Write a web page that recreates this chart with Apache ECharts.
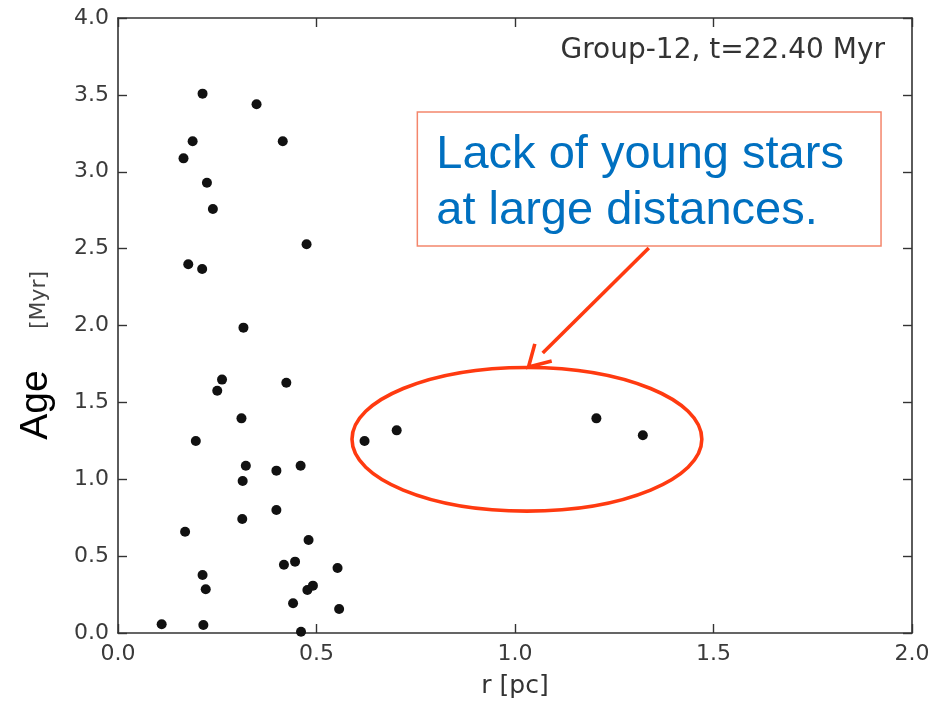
<!DOCTYPE html>
<html>
<head>
<meta charset="utf-8">
<script src="https://cdn.jsdelivr.net/npm/echarts@6/dist/echarts.min.js"></script>
<style>
  html, body { margin: 0; padding: 0; background: #fff; }
  #chart { width: 949px; height: 706px; }
</style>
</head>
<body>
<div id="chart"></div>
<script>
// Stellar ages vs. radial distance for one group
const radiusPc = [0.213, 0.349, 0.188, 0.415, 0.165, 0.224, 0.239, 0.475, 0.177, 0.212,
                  0.316, 0.262, 0.250, 0.424, 0.311, 0.196, 0.621, 0.702, 1.205, 1.322,
                  0.322, 0.460, 0.399, 0.314, 0.399, 0.313, 0.480, 0.169, 0.446, 0.418,
                  0.553, 0.213, 0.221, 0.477, 0.491, 0.441, 0.557, 0.110, 0.215, 0.461];
const ageMyr = [3.508, 3.439, 3.198, 3.198, 3.087, 2.929, 2.758, 2.528, 2.398, 2.367,
                1.986, 1.648, 1.576, 1.628, 1.396, 1.249, 1.249, 1.318, 1.396, 1.286,
                1.088, 1.088, 1.056, 0.989, 0.800, 0.741, 0.605, 0.659, 0.464, 0.444,
                0.423, 0.377, 0.284, 0.280, 0.308, 0.193, 0.156, 0.057, 0.052, 0.008];

const xTicks = [0, 0.5, 1.0, 1.5, 2.0];
const yTicks = [0, 0.5, 1.0, 1.5, 2.0, 2.5, 3.0, 3.5, 4.0];
const panelTitle = 'Group-12, t=22.40 Myr';
const noteLines = ['Lack of young stars', 'at large distances.'];

const points = radiusPc.map((r, i) => [r, ageMyr[i]]);

const axisColor = '#333';
const tickFont = { fontFamily: 'DejaVu Sans', fontSize: 22, color: '#3a3a3a' };

function frameAxis(extra) {
  return Object.assign({
    type: 'value',
    axisLine: { show: true, onZero: false, lineStyle: { color: axisColor, width: 1.6 } },
    axisTick: { show: true, inside: true, length: 9, lineStyle: { color: axisColor, width: 1.4 } },
    splitLine: { show: false }
  }, extra);
}

const chart = echarts.init(document.getElementById('chart'), null, { renderer: 'canvas' });

chart.setOption({
  animation: false,
  backgroundColor: '#fff',
  grid: { left: 118, right: 37, top: 18, bottom: 73 },
  xAxis: [
    frameAxis({
      position: 'bottom', min: xTicks[0], max: xTicks[xTicks.length - 1], interval: 0.5,
      axisLabel: Object.assign({ margin: 10, formatter: v => v.toFixed(1) }, tickFont),
      name: 'r [pc]', nameLocation: 'middle', nameGap: 41,
      nameTextStyle: { fontFamily: 'DejaVu Sans', fontSize: 25, color: '#333' }
    }),
    frameAxis({
      position: 'top', min: xTicks[0], max: xTicks[xTicks.length - 1], interval: 0.5,
      axisLabel: { show: false }
    })
  ],
  yAxis: [
    frameAxis({
      position: 'left', min: yTicks[0], max: yTicks[yTicks.length - 1], interval: 0.5,
      axisLabel: Object.assign({ margin: 9, formatter: v => v.toFixed(1) }, tickFont)
    }),
    frameAxis({
      position: 'right', min: yTicks[0], max: yTicks[yTicks.length - 1], interval: 0.5,
      axisLabel: { show: false }
    })
  ],
  series: [{
    type: 'scatter',
    xAxisIndex: 0,
    yAxisIndex: 0,
    data: points,
    symbol: 'circle',
    symbolSize: 10,
    itemStyle: { color: '#111', opacity: 1 },
    clip: true
  }]
});

// Annotations, anchored in data space
const toPx = (x, y) => chart.convertToPixel({ xAxisIndex: 0, yAxisIndex: 0 }, [x, y]);

const ellC = toPx(1.03, 1.26);
const ellR = toPx(1.03 + 0.4406, 1.26 + 0.467);
const arrowFrom = toPx(1.337, 2.504);
const arrowTip = toPx(1.034, 1.730);
const boxTL = toPx(0.754, 3.389);
const boxBR = toPx(1.922, 2.517);

const dx = arrowTip[0] - arrowFrom[0];
const dy = arrowTip[1] - arrowFrom[1];
const len = Math.hypot(dx, dy);
const ux = dx / len, uy = dy / len;
const headLen = 24, headAng = Math.PI / 6;
function rot(x, y, a) { return [x * Math.cos(a) - y * Math.sin(a), x * Math.sin(a) + y * Math.cos(a)]; }
const a1 = rot(-ux, -uy, headAng), a2 = rot(-ux, -uy, -headAng);
const red = '#ff3a10';

chart.setOption({
  graphic: [
    {
      type: 'text', right: 949 - 885, top: 37,
      style: { text: panelTitle, font: '28px "DejaVu Sans"', fill: '#333' }
    },
    {
      type: 'text', x: 36, y: 405, rotation: Math.PI / 2,
      style: { text: 'Age', font: '39px "Liberation Sans"', fill: '#000', align: 'center', verticalAlign: 'middle' }
    },
    {
      type: 'text', x: 39, y: 300, rotation: Math.PI / 2,
      style: { text: '[Myr]', font: '22px "DejaVu Sans"', fill: '#444', align: 'center', verticalAlign: 'middle' }
    },
    {
      type: 'rect',
      shape: { x: boxTL[0], y: boxTL[1], width: boxBR[0] - boxTL[0], height: boxBR[1] - boxTL[1] },
      style: { fill: '#fff', stroke: '#f4866c', lineWidth: 1.5 }
    },
    {
      type: 'text', x: boxTL[0] + 19, y: boxTL[1] + 20,
      style: { text: noteLines[0], font: '47px "Liberation Sans"', fill: '#0070c0', verticalAlign: 'top' }
    },
    {
      type: 'text', x: boxTL[0] + 19, y: boxTL[1] + 76,
      style: { text: noteLines[1], font: '47px "Liberation Sans"', fill: '#0070c0', verticalAlign: 'top' }
    },
    {
      type: 'ellipse',
      shape: { cx: ellC[0], cy: ellC[1], rx: ellR[0] - ellC[0], ry: ellC[1] - ellR[1] },
      style: { fill: null, stroke: red, lineWidth: 3.6 }
    },
    {
      type: 'polyline',
      shape: { points: [arrowFrom, [arrowTip[0] - ux * 20, arrowTip[1] - uy * 20]] },
      style: { stroke: red, lineWidth: 3.6, fill: null }
    },
    {
      type: 'polyline',
      shape: { points: [
        [arrowTip[0] + a1[0] * headLen, arrowTip[1] + a1[1] * headLen],
        arrowTip,
        [arrowTip[0] + a2[0] * headLen, arrowTip[1] + a2[1] * headLen]
      ] },
      style: { stroke: red, lineWidth: 3.6, fill: null }
    }
  ]
});
</script>
</body>
</html>
